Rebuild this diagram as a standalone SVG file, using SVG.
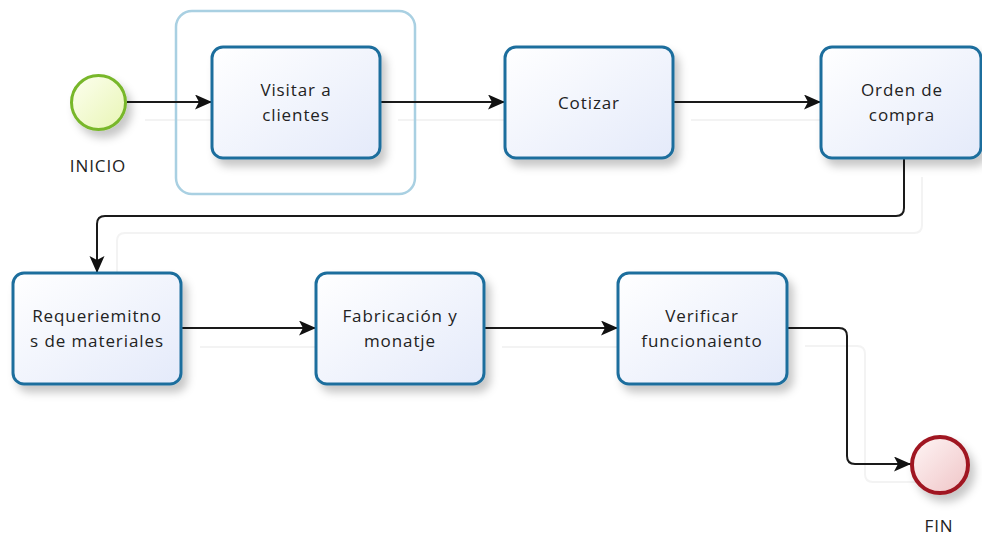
<svg xmlns="http://www.w3.org/2000/svg" width="982" height="536" viewBox="0 0 982 536">
<defs>
<linearGradient id="gTask" x1="0" y1="0" x2="1" y2="1">
<stop offset="0" stop-color="#ffffff"/><stop offset="1" stop-color="#e4eafa"/>
</linearGradient>
<linearGradient id="gStart" x1="0" y1="0" x2="1" y2="1">
<stop offset="0" stop-color="#fdfff0"/><stop offset="1" stop-color="#e8f5b4"/>
</linearGradient>
<linearGradient id="gEnd" x1="0" y1="0" x2="1" y2="1">
<stop offset="0" stop-color="#fff6f6"/><stop offset="1" stop-color="#efc4c6"/>
</linearGradient>
<filter id="sh" x="-20%" y="-20%" width="150%" height="160%">
<feDropShadow dx="5" dy="7" stdDeviation="4" flood-color="#000" flood-opacity="0.22"/>
</filter>
<marker id="arr" markerUnits="userSpaceOnUse" markerWidth="18" markerHeight="16" refX="17" refY="7.5" orient="auto">
<path d="M0,0 L17,7.5 L0,15 L4,7.5 z" fill="#111"/>
</marker>
</defs>
<style>
.task{fill:url(#gTask);stroke:#1f6e9d;stroke-width:3;filter:url(#sh)}
.lbl{font-family:"Open Sans","DejaVu Sans",sans-serif;font-size:17px;fill:#222;text-anchor:middle;letter-spacing:0.9px}
.conn{fill:none;stroke:#1a1a1a;stroke-width:2}
.ghost{fill:none;stroke:#f3f3f3;stroke-width:2}
</style>
<rect width="982" height="536" fill="#fff"/>
<g id="ghosts">
<path class="ghost" d="M145,120 H230 M398,120 H523 M691,120 H839"/>
<path class="ghost" d="M922,177 V225 Q922,233 914,233 H125 Q117,233 117,241 V291"/>
<path class="ghost" d="M200,347 H334 M502,347 H636 M805,346 H857 Q865,346 865,354 V474 Q865,482 873,482 H928"/>
</g>
<g id="group1">
<rect x="176" y="11" width="239" height="183" rx="16" fill="none" stroke="#a9d0e2" stroke-width="2.5"/>
</g>
<g id="connectors">
<path class="conn" d="M127,102 H212" marker-end="url(#arr)"/>
<path class="conn" d="M380,102 H505" marker-end="url(#arr)"/>
<path class="conn" d="M673,102 H821" marker-end="url(#arr)"/>
<path class="conn" d="M904,158 V208 Q904,216 896,216 H105 Q97,216 97,224 V273" marker-end="url(#arr)"/>
<path class="conn" d="M181,328 H316" marker-end="url(#arr)"/>
<path class="conn" d="M484,328 H618" marker-end="url(#arr)"/>
<path class="conn" d="M787,328 H839 Q847,328 847,336 V456 Q847,464 855,464 H911" marker-end="url(#arr)"/>
</g>
<g id="start">
<circle cx="98.5" cy="102.5" r="27" fill="url(#gStart)" stroke="#78b72a" stroke-width="3" filter="url(#sh)"/>
<text class="lbl" x="98" y="172">INICIO</text>
</g>
<g id="visitar">
<rect class="task" x="212" y="47" width="168" height="111" rx="11"/>
<text class="lbl" x="296" y="96">Visitar a</text>
<text class="lbl" x="296" y="121">clientes</text>
</g>
<g id="cotizar">
<rect class="task" x="505" y="47" width="168" height="111" rx="11"/>
<text class="lbl" x="589" y="109">Cotizar</text>
</g>
<g id="orden">
<rect class="task" x="821" y="47" width="160" height="111" rx="11"/>
<text class="lbl" x="902" y="96">Orden de</text>
<text class="lbl" x="902" y="121">compra</text>
</g>
<g id="requerimientos">
<rect class="task" x="13" y="273" width="168" height="111" rx="11"/>
<text class="lbl" x="97" y="322">Requeriemitno</text>
<text class="lbl" x="97" y="347">s de materiales</text>
</g>
<g id="fabricacion">
<rect class="task" x="316" y="273" width="168" height="111" rx="11"/>
<text class="lbl" x="400" y="322">Fabricación y</text>
<text class="lbl" x="400" y="347">monatje</text>
</g>
<g id="verificar">
<rect class="task" x="618" y="273" width="169" height="111" rx="11"/>
<text class="lbl" x="702" y="322">Verificar</text>
<text class="lbl" x="702" y="347">funcionaiento</text>
</g>
<g id="end">
<circle cx="940" cy="465" r="28" fill="url(#gEnd)" stroke="#a01820" stroke-width="4" filter="url(#sh)"/>
<text class="lbl" x="939" y="532">FIN</text>
</g>
</svg>
